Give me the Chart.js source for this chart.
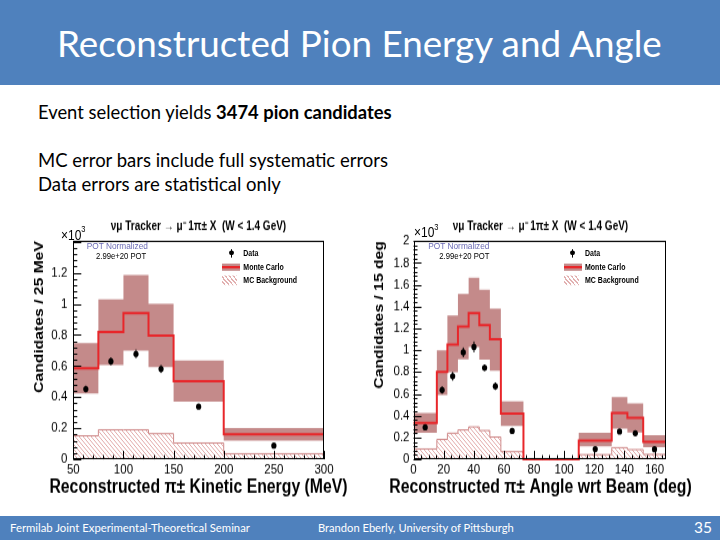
<!DOCTYPE html>
<html><head><meta charset="utf-8">
<script src="https://cdn.jsdelivr.net/npm/chart.js@4.4.1/dist/chart.umd.min.js"></script>
<style>
html,body{margin:0;padding:0;background:#fff;}
#slide{position:relative;width:720px;height:540px;overflow:hidden;background:#fff;font-family:Lato,"Open Sans",sans-serif;}
.bar{position:absolute;left:0;width:720px;background:#4f81bd;}
.txt{position:absolute;white-space:nowrap;line-height:1;transform:translateY(-50%);color:#000;}
.wrap{position:absolute;top:212px;width:341px;height:242px;transform:scaleY(1.2);transform-origin:0 0;}
.wrap canvas{position:absolute;left:0;top:0;}
.ov{position:absolute;white-space:nowrap;line-height:1;transform:translateY(-50%);font-family:"Liberation Sans",Arial,sans-serif;color:#000;}
.exp{font-size:12px;}
.exp sup{font-size:7.5px;vertical-align:6px;}
.pot{font-size:8.3px;color:#6b6bb5;}
.pot2{font-size:7.7px;}
.lg{font-size:7px;font-weight:bold;}
.sw{position:absolute;}
.hatch{background:repeating-linear-gradient(45deg,#fff 0px,#fff 1.6px,#e2b0b0 1.6px,#e2b0b0 2.8px);}
</style></head>
<body><div id="slide">
<div class="bar" style="top:0;height:85px"></div>
<div class="txt fit" data-w="605" style="left:57px;top:43px;color:#fff;font-size:40px">Reconstructed Pion Energy and Angle</div>
<div class="txt fit" data-w="354" style="left:38px;top:112px;font-size:20px">Event selection yields <b>3474 pion candidates</b></div>
<div class="txt fit" data-w="350" style="left:38px;top:160px;font-size:20px">MC error bars include full systematic errors</div>
<div class="txt fit" data-w="243" style="left:38px;top:184px;font-size:20px">Data errors are statistical only</div>

<div class="wrap" id="wrapE" style="left:28px">
  <canvas id="cE" width="341" height="242"></canvas>
  <div class="ov exp" style="left:33px;top:18px">×10<sup>3</sup></div>
  <div class="ov pot" style="left:58.7px;top:28.3px">POT Normalized</div>
  <div class="ov pot2" style="left:68px;top:36.7px">2.99e+20 POT</div>
  <div class="sw" style="left:200.5px;top:32.3px;width:5px;height:4.2px;border-radius:50%;background:#000"></div>
  <div class="sw" style="left:202.5px;top:31px;width:1px;height:6.8px;background:#000"></div>
  <div class="ov lg" style="left:215.3px;top:34.4px">Data</div>
  <div class="sw" style="left:194.3px;top:42.75px;width:17.7px;height:6.15px;background:#c48a8a"></div>
  <div class="sw" style="left:194.3px;top:44.9px;width:17.7px;height:1.8px;background:#e8262a"></div>
  <div class="ov lg" style="left:215.3px;top:46.1px">Monte Carlo</div>
  <div class="sw hatch" style="left:194.3px;top:53.1px;width:15px;height:8.3px"></div>
  <div class="ov lg" style="left:215.3px;top:57.25px">MC Background</div>
</div>

<div class="wrap" id="wrapA" style="left:370px">
  <canvas id="cA" width="341" height="242"></canvas>
  <div class="ov exp" style="left:44px;top:16px">×10<sup>3</sup></div>
  <div class="ov pot" style="left:58.3px;top:28.3px">POT Normalized</div>
  <div class="ov pot2" style="left:69.3px;top:36.7px">2.99e+20 POT</div>
  <div class="sw" style="left:200.2px;top:32.3px;width:5px;height:4.2px;border-radius:50%;background:#000"></div>
  <div class="sw" style="left:202.2px;top:31px;width:1px;height:6.8px;background:#000"></div>
  <div class="ov lg" style="left:215px;top:34.4px">Data</div>
  <div class="sw" style="left:194.3px;top:42.75px;width:17.7px;height:6.15px;background:#c48a8a"></div>
  <div class="sw" style="left:194.3px;top:44.9px;width:17.7px;height:1.8px;background:#e8262a"></div>
  <div class="ov lg" style="left:215px;top:46.1px">Monte Carlo</div>
  <div class="sw hatch" style="left:194.3px;top:53.1px;width:15px;height:8.3px"></div>
  <div class="ov lg" style="left:215px;top:57.25px">MC Background</div>
</div>

<div class="bar" style="top:516px;height:24px"></div>
<div class="txt fit" data-w="240" style="left:10px;top:528px;color:#fff;font-size:12px">Fermilab Joint Experimental-Theoretical Seminar</div>
<div class="txt fit" data-w="196" style="left:318px;top:528px;color:#fff;font-size:12px">Brandon Eberly, University of Pittsburgh</div>
<div class="txt fit" data-w="18" style="left:694px;top:528px;color:#fff;font-size:16px">35</div>
</div>
<script>
// ---------- data: pion kinetic energy (left) ----------
const energyEdges = [50, 75, 100, 125, 150, 200, 300];
const energyMC    = [0.585, 0.818, 0.94, 0.795, 0.502, 0.16];
const energyMCHi  = [0.748, 1.03, 1.185, 1.0, 0.635, 0.202];
const energyMCLo  = [0.424, 0.607, 0.70, 0.593, 0.372, 0.12];
const energyBkg   = [0.151, 0.19, 0.19, 0.165, 0.105, 0.036];
const energyData  = [0.452, 0.63, 0.678, 0.581, 0.339, 0.088];
const energyErr   = [0.022, 0.026, 0.028, 0.026, 0.012, 0.007];
const energyXTicks = [50, 100, 150, 200, 250, 300];
const energyYTicks = [0, 0.2, 0.4, 0.6, 0.8, 1, 1.2];

// ---------- data: pion angle wrt beam (right) ----------
const angleEdges = [0, 15.5, 22.5, 29.5, 36.6, 43.7, 50.7, 58, 73, 109.7, 131.6, 142, 152.5, 167.5];
const angleMC    = [0.333, 0.80, 1.05, 1.215, 1.34, 1.23, 1.10, 0.42, 0, 0.172, 0.424, 0.379, 0.159];
const angleMCHi  = [0.424, 1.0, 1.318, 1.515, 1.663, 1.555, 1.382, 0.532, 0, 0.242, 0.57, 0.511, 0.222];
const angleMCLo  = [0.242, 0.589, 0.797, 0.917, 1.028, 0.913, 0.813, 0.307, 0, 0.119, 0.282, 0.245, 0.11];
const angleBkg   = [0.095, 0.182, 0.239, 0.269, 0.297, 0.264, 0.204, 0.07, 0, 0.043, 0.107, 0.089, 0.045];
const angleData  = [0.293, 0.635, 0.761, 0.98, 1.03, 0.839, 0.67, 0.26, null, 0.093, 0.255, 0.239, 0.092];
const angleErr   = [0.015, 0.035, 0.04, 0.045, 0.05, 0.03, 0.035, 0.014, null, 0.008, 0.02, 0.022, 0.008];
const angleXTicks = [0, 20, 40, 60, 80, 100, 120, 140, 160];
const angleYTicks = [0, 0.2, 0.4, 0.6, 0.8, 1, 1.2, 1.4, 1.6, 1.8, 2];

// ---------- slide text fitting ----------
document.querySelectorAll('.fit').forEach(el => {
  const w = el.getBoundingClientRect().width;
  const fs = parseFloat(el.style.fontSize);
  el.style.fontSize = (fs * (+el.dataset.w) / w) + 'px';
});

// ---------- helpers ----------
function histPoints(edges, vals) {
  const pts = vals.map((v, i) => ({x: edges[i], y: v}));
  pts.push({x: edges[edges.length - 1], y: vals[vals.length - 1]});
  return pts;
}
function centers(edges) { return edges.slice(0, -1).map((e, i) => (e + edges[i + 1]) / 2); }
function dataPoints(edges, vals) {
  const c = centers(edges);
  return vals.map((v, i) => v == null ? null : {x: c[i], y: v}).filter(Boolean);
}
function errPoints(edges, vals, errs) {
  const c = centers(edges); const out = [];
  vals.forEach((v, i) => {
    if (v == null) return;
    out.push({x: c[i], y: v - errs[i]}, {x: c[i], y: v + errs[i]}, {x: c[i], y: null});
  });
  return out;
}
function hatchPattern() {
  const s = 4, c = document.createElement('canvas'); c.width = s; c.height = s;
  const g = c.getContext('2d');
  g.strokeStyle = '#e2aaaa'; g.lineWidth = 1;
  g.beginPath();
  g.moveTo(-1, -1); g.lineTo(s + 1, s + 1);
  g.moveTo(-1, s - 1); g.lineTo(1, s + 1);
  g.moveTo(s - 1, -1); g.lineTo(s + 1, 1);
  g.stroke();
  return g.createPattern(c, 'repeat');
}

const rootFrame = {
  id: 'rootFrame',
  afterDatasetsDraw(chart, args, opts) {
    const {ctx, chartArea: a, scales: {x, y}} = chart;
    ctx.save();
    ctx.strokeStyle = '#000'; ctx.lineWidth = 1;
    ctx.beginPath();
    const ny = Math.floor((y.max - y.min) / opts.yMinor + 1e-6);
    for (let i = 0; i <= ny; i++) {
      const v = y.min + i * opts.yMinor;
      const major = Math.abs(v / opts.yMajor - Math.round(v / opts.yMajor)) < 1e-6;
      const py = Math.round(y.getPixelForValue(v)) + 0.5;
      ctx.moveTo(a.left, py); ctx.lineTo(a.left + (major ? 8 : 4), py);
    }
    const nx = Math.floor((x.max - x.min) / opts.xMinor + 1e-6);
    for (let i = 0; i <= nx; i++) {
      const v = opts.xStart + i * opts.xMinor;
      if (v > x.max) break;
      const major = Math.abs((v - opts.xStart) / opts.xMajor - Math.round((v - opts.xStart) / opts.xMajor)) < 1e-6;
      const px = Math.round(x.getPixelForValue(v)) + 0.5;
      ctx.moveTo(px, a.bottom); ctx.lineTo(px, a.bottom - (major ? 7 : 3.5));
    }
    ctx.stroke();
    ctx.strokeRect(Math.round(a.left) + 0.5, Math.round(a.top) + 0.5,
                   Math.round(a.right - a.left) - 1, Math.round(a.bottom - a.top) - 1);
    ctx.restore();
  }
};

const FONT = 'Liberation Sans';
function fmt(v) { return String(+Number(v).toFixed(2)); }

function makeChart(id, c) {
  return new Chart(document.getElementById(id), {
    type: 'line',
    data: {datasets: [
      {label: 'Data', data: dataPoints(c.edges, c.data), showLine: false, pointRadius: 2.6,
       pointBackgroundColor: '#000', pointBorderWidth: 0, pointHoverRadius: 2.6},
      {label: 'Data errors', data: errPoints(c.edges, c.data, c.err), showLine: true, spanGaps: false,
       pointRadius: 0, borderColor: '#000', borderWidth: 1, fill: false},
      {label: 'Monte Carlo', data: histPoints(c.edges, c.mc), stepped: 'before', borderColor: '#e8262a',
       borderWidth: 2, pointRadius: 0, fill: false, clip: 3},
      {label: 'MC Background', data: histPoints(c.edges, c.bkg), stepped: 'before', borderColor: '#cf8a8a',
       borderWidth: 1, pointRadius: 0, fill: 'origin', backgroundColor: hatchPattern()},
      {label: 'MC upper', data: histPoints(c.edges, c.hi), stepped: 'before', borderWidth: 0,
       borderColor: 'rgba(0,0,0,0)', pointRadius: 0, fill: '+1', backgroundColor: '#c48a8a'},
      {label: 'MC lower', data: histPoints(c.edges, c.lo), stepped: 'before', borderWidth: 0,
       borderColor: 'rgba(0,0,0,0)', pointRadius: 0, fill: false}
    ]},
    options: {
      responsive: false, animation: false, events: [],
      layout: {padding: 0},
      plugins: {
        legend: {display: false}, tooltip: {enabled: false},
        title: {display: true, text: 'νμ Tracker → μ⁻ 1π± X  (W < 1.4 GeV)', color: '#000',
                font: {family: FONT, size: 10, weight: 'bold'}, padding: {top: 6, bottom: 6.17}},
        subtitle: {display: true, position: 'bottom', text: c.xTitle, color: '#000',
                   font: {family: FONT, size: 15.8, weight: 'bold'}, padding: {top: 0, bottom: 3.3}},
        rootFrame: c.frame
      },
      scales: {
        x: {type: 'linear', min: c.xMin, max: c.xMax,
            afterBuildTicks: s => { s.ticks = c.xTicks.map(v => ({value: v})); },
            afterFit: s => { s.height = 13.66; },
            grid: {display: false, drawTicks: false}, border: {display: false},
            ticks: {color: '#000', font: {family: FONT, size: 11.5}, padding: 2, maxRotation: 0,
                    autoSkip: false, callback: v => fmt(v)}},
        y: {type: 'linear', min: 0, max: c.yMax,
            afterBuildTicks: s => { s.ticks = c.yTicks.map(v => ({value: v})); },
            afterFit: s => { s.width = c.yWidth; },
            title: {display: true, text: c.yTitle, align: 'end', color: '#000',
                    font: {family: FONT, size: 13.1, weight: 'bold'}, padding: {top: c.yTitlePad, bottom: 0}},
            grid: {display: false, drawTicks: false}, border: {display: false},
            ticks: {color: '#000', font: {family: FONT, size: 11.5}, padding: c.yPad, callback: v => fmt(v)}},
        y2: {type: 'linear', position: 'right', display: true,
             afterFit: s => { s.width = c.rightWidth; },
             ticks: {display: false}, grid: {display: false, drawTicks: false}, border: {display: false}}
      }
    },
    plugins: [rootFrame]
  });
}

makeChart('cE', {
  edges: energyEdges, mc: energyMC, hi: energyMCHi, lo: energyMCLo, bkg: energyBkg,
  data: energyData, err: energyErr, xTicks: energyXTicks, yTicks: energyYTicks,
  xMin: 50, xMax: 300, yMax: 1.404, yWidth: 45.3, rightWidth: 45, yPad: 6, yTitlePad: 3.4,
  yTitle: 'Candidates / 25 MeV', xTitle: 'Reconstructed π± Kinetic Energy (MeV)',
  frame: {yMinor: 0.04, yMajor: 0.2, xStart: 50, xMinor: 10, xMajor: 50}
});
makeChart('cA', {
  edges: angleEdges, mc: angleMC, hi: angleMCHi, lo: angleMCLo, bkg: angleBkg,
  data: angleData, err: angleErr, xTicks: angleXTicks, yTicks: angleYTicks,
  xMin: 0, xMax: 167.5, yMax: 2.0, yWidth: 43.5, rightWidth: 45.2, yPad: 4, yTitlePad: 1.1,
  yTitle: 'Candidates / 15 deg', xTitle: 'Reconstructed π± Angle wrt Beam (deg)',
  frame: {yMinor: 0.04, yMajor: 0.2, xStart: 0, xMinor: 5, xMajor: 20}
});
</script>
</body></html>
